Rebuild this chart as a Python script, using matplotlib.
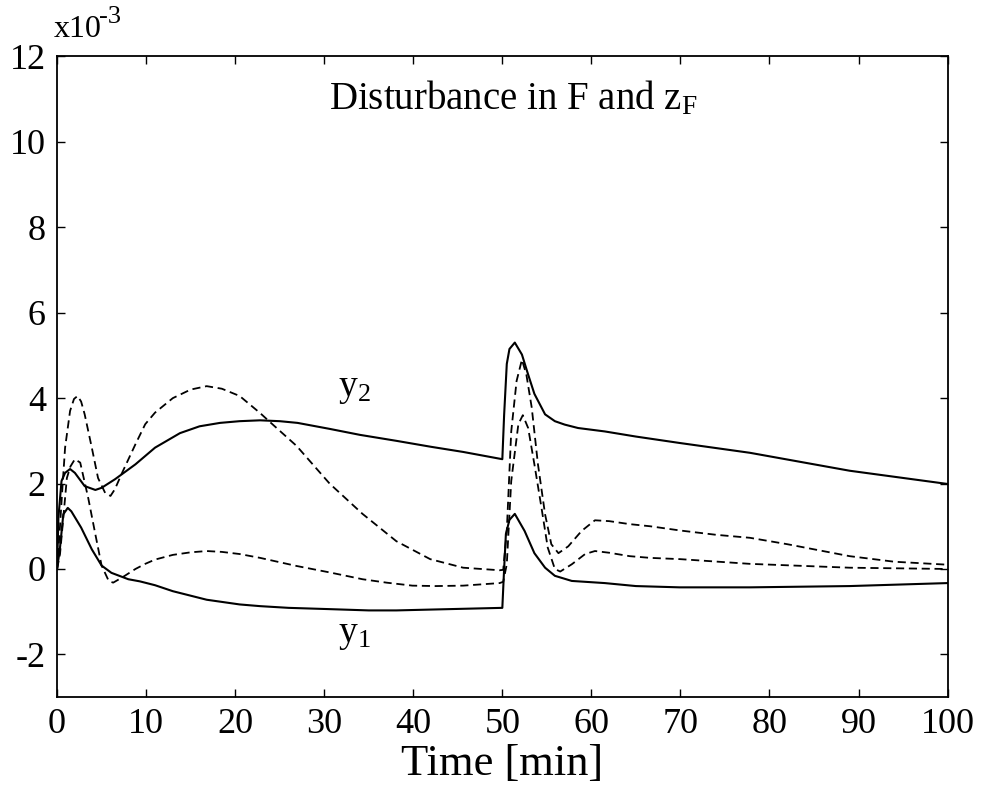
import numpy as np
import matplotlib
matplotlib.use("Agg")
import matplotlib.pyplot as plt

plt.rcParams["font.family"] = ["Liberation Serif", "DejaVu Serif"]
plt.rcParams["mathtext.fontset"] = "custom"
plt.rcParams["mathtext.rm"] = "Liberation Serif"
plt.rcParams["mathtext.it"] = "Liberation Serif:italic"

# ---- data (values in units of 1e-3) ----
t_y2 = [0, 0.15, 0.5, 0.9, 1.46, 2.0, 3.1, 4.3, 5.0, 6.5, 8.8, 11, 13.8, 16, 18.3, 20.5, 22.8,
        25, 27, 30.6, 34, 38.1, 42, 45.6, 50,
        50.2, 50.5, 50.8, 51.4, 52.2, 52.9, 53.6, 54.8, 55.9, 57, 58.5, 61.5, 65, 69.9,
        77.8, 89, 100]
y2 = [0, 1.2, 2.06, 2.25, 2.34, 2.25, 1.94, 1.85, 1.9, 2.1, 2.45, 2.84, 3.18, 3.34, 3.42, 3.46, 3.48,
      3.46, 3.42, 3.28, 3.14, 3.0, 2.86, 2.74, 2.57,
      3.6, 4.8, 5.15, 5.3, 5.02, 4.55, 4.1, 3.62, 3.46, 3.38, 3.3, 3.22, 3.1, 2.95,
      2.72, 2.3, 1.99]

t_y1 = [0, 0.33, 0.7, 1.2, 1.6, 2.7, 3.9, 5.0, 6.1, 8.0, 9.3, 11, 13, 16.8, 20.5, 22.8,
        26, 30.6, 35, 38.1, 42, 46, 50,
        50.2, 50.4, 50.8, 51.4, 52.5, 53.6, 54.8, 55.9, 57.8, 61.5, 65, 69.9,
        77.8, 89, 100]
y1 = [0, 0.5, 1.28, 1.43, 1.35, 0.97, 0.46, 0.08, -0.09, -0.24, -0.29, -0.38, -0.52, -0.72, -0.83, -0.87,
      -0.91, -0.94, -0.97, -0.97, -0.95, -0.93, -0.91,
      0.0, 0.82, 1.15, 1.29, 0.89, 0.37, 0.03, -0.16, -0.28, -0.33, -0.4, -0.43,
      -0.43, -0.4, -0.33]

t_d1 = [0, 0.3, 0.6, 0.9, 1.46, 1.9, 2.3, 2.7, 3.1, 3.9, 4.6, 5.4, 6.0, 6.5, 7.3, 8.8, 9.9, 11,
        13, 15, 16.8, 18.5, 20.5, 22.8, 23.8, 26.9, 30.6, 34.3, 38.1, 41.9, 45.6, 49.7,
        50.1, 50.5, 51.0, 51.6, 52.2, 52.7, 53.3, 54.0, 54.8, 55.5, 56.3, 57.4, 58.9, 60.4,
        62, 64.3, 66.6, 70, 74, 77.8, 82, 86, 89, 94, 100]
d1 = [0, 0.9, 1.9, 2.84, 3.7, 3.98, 4.05, 3.92, 3.62, 2.84, 2.13, 1.78, 1.71, 1.87, 2.25, 2.92, 3.39, 3.66,
      4.0, 4.2, 4.28, 4.22, 4.05, 3.65, 3.46, 2.88, 2.0, 1.29, 0.65, 0.23, 0.03, -0.03,
      -0.02, 0.89, 3.22, 4.4, 4.9, 4.55, 3.78, 2.45, 1.28, 0.58, 0.37, 0.53, 0.89, 1.14,
      1.12, 1.05, 1.0, 0.9, 0.8, 0.73, 0.58, 0.42, 0.3, 0.17, 0.1]

t_d2 = [0, 0.33, 0.7, 1.1, 1.5, 2.0, 2.6, 3.5, 4.3, 5.0, 5.8, 6.3, 7.3, 8.8, 9.9, 11, 13, 15,
        16.8, 18.5, 20.5, 22.8, 26.9, 30.6, 34.3, 37, 39.9, 42.5, 45.6, 49.7,
        50.1, 50.5, 51.0, 51.8, 52.3, 52.9, 53.6, 54.4, 55.1, 55.9, 56.5, 57.8, 59.3, 60.4,
        62, 64.3, 66.6, 70, 77.8, 89, 100]
d2 = [0, 0.35, 1.2, 2.13, 2.4, 2.57, 2.49, 1.66, 0.81, 0.08, -0.28, -0.32, -0.2, 0.0, 0.12, 0.22, 0.33, 0.39,
      0.42, 0.4, 0.35, 0.26, 0.07, -0.08, -0.24, -0.32, -0.39, -0.4, -0.39, -0.33,
      -0.3, 0.11, 2.06, 3.39, 3.6, 3.3, 2.45, 1.43, 0.5, 0.0, -0.06, 0.11, 0.35, 0.42,
      0.38, 0.3, 0.26, 0.23, 0.12, 0.03, 0.0]

xticks = [0, 10, 20, 30, 40, 50, 60, 70, 80, 90, 100]
yticks = [-2, 0, 2, 4, 6, 8, 10, 12]

fig = plt.figure(figsize=(9.84, 7.94), dpi=100)
ax = fig.add_axes([0.058, 0.122, 0.905, 0.807])

dash = (0, (4.5, 2.6))
ax.plot(t_y2, y2, color="black", linewidth=1.5)
ax.plot(t_y1, y1, color="black", linewidth=1.5)
ax.plot(t_d1, d1, color="black", linewidth=1.3, linestyle=dash)
ax.plot(t_d2, d2, color="black", linewidth=1.3, linestyle=dash)

ax.set_xlim(0, 100)
ax.set_ylim(-3, 12)
ax.set_xticks(xticks)
ax.set_yticks(yticks)
ax.set_yticklabels([str(v) for v in yticks])
ax.tick_params(direction="in", top=True, right=True, length=6, width=1, labelsize=26, pad=8)
for s in ax.spines.values():
    s.set_linewidth(1.3)

ax.set_xlabel("Time [min]", fontsize=32, labelpad=2)

ax.text(51.2, 10.76, r"Disturbance in F and z$_\mathrm{F}$", fontsize=28, ha="center", va="baseline")
ax.text(31.5, 4.05, r"y$_2$", fontsize=27, ha="left", va="baseline")
ax.text(31.5, -1.7, r"y$_1$", fontsize=27, ha="left", va="baseline")
# scale factor label
fig.text(0.055, 1 - 37 / 794, "x10", fontsize=23, ha="left", va="baseline")
fig.text(99 / 984, 1 - 23 / 794, "-3", fontsize=19, ha="left", va="baseline")

fig.savefig("out.png", dpi=100)
